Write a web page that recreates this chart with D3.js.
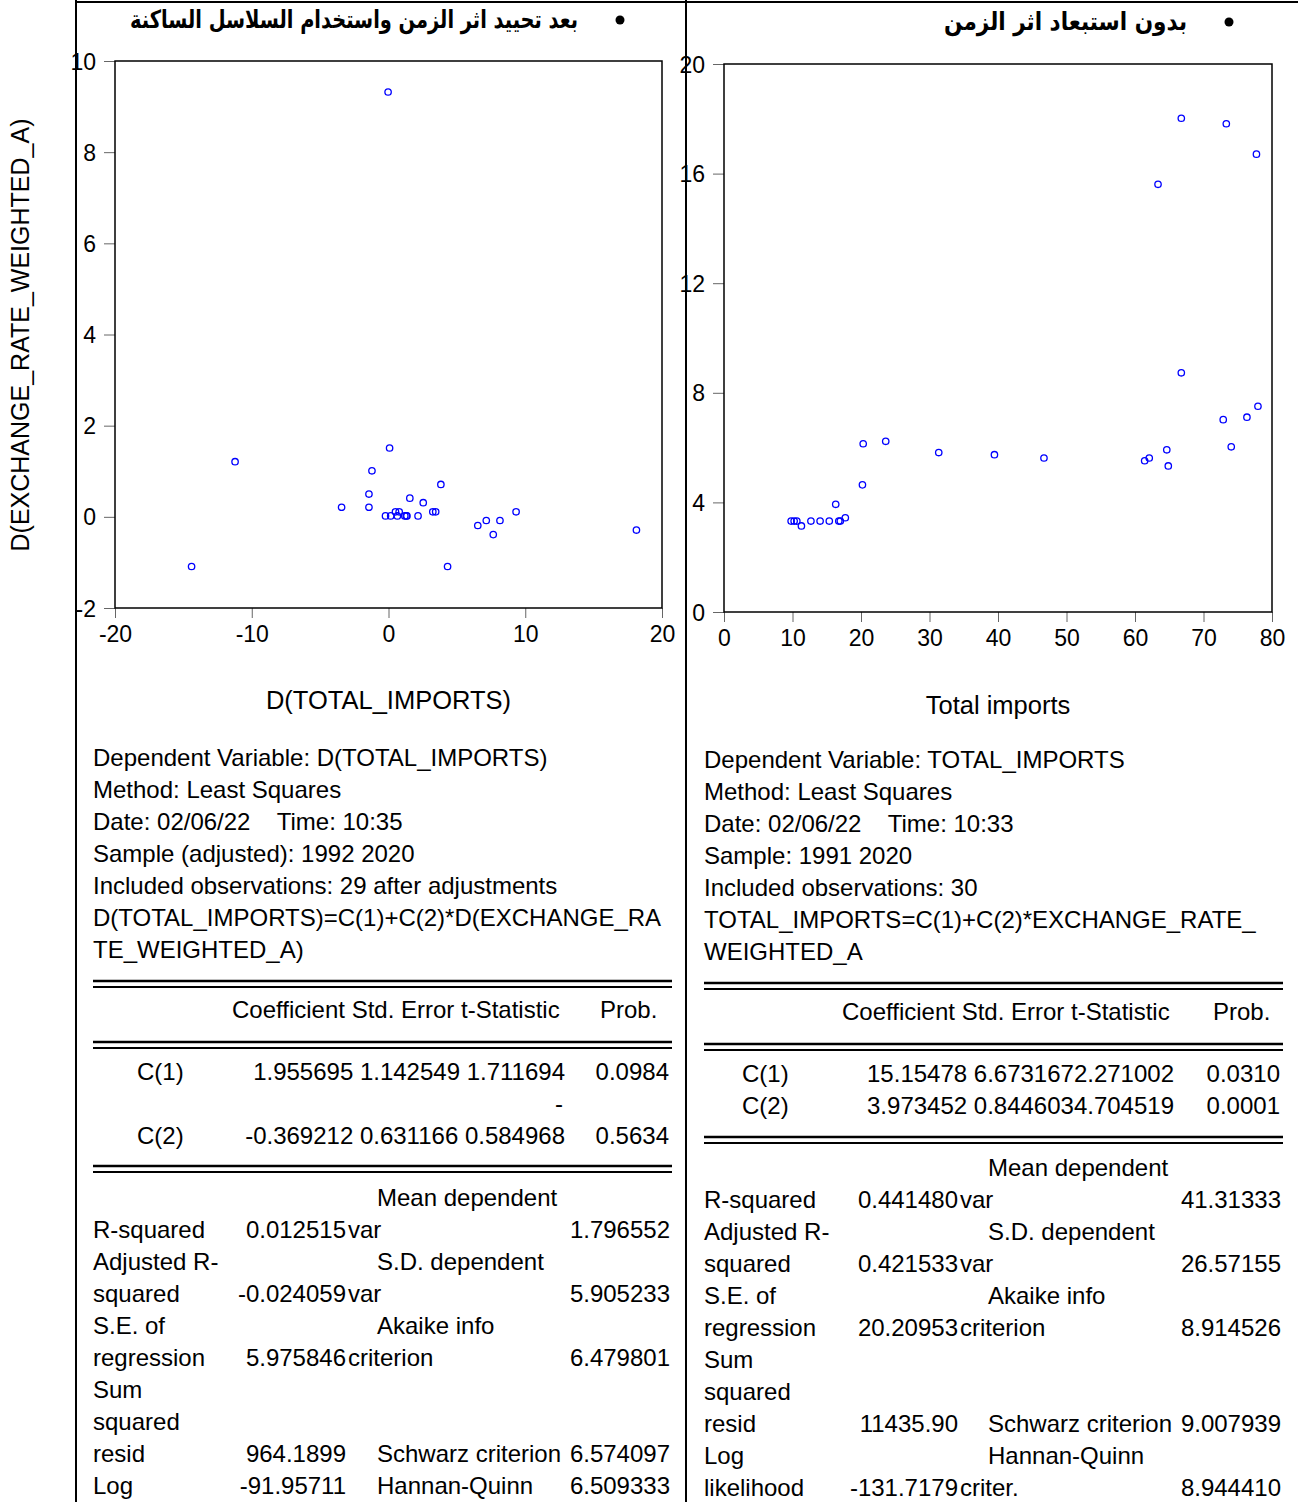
<!DOCTYPE html>
<html><head><meta charset="utf-8">
<script src="https://cdn.jsdelivr.net/npm/d3@7"></script>
<style>body{margin:0;background:#fff}svg{display:block}</style>
</head><body>
<script>
// ---------- DATA ----------
const leftX = [-0.03,-11.22,-14.4,0.08,-1.21,-1.43,-1.43,-3.43,3.83,1.56,2.54,0.51,0.78,3.24,3.45,-0.22,0.16,0.65,1.19,1.35,1.30,2.16,9.33,6.53,7.15,8.15,7.66,18.13,4.32];
const leftY = [9.32,1.21,-1.09,1.51,1.01,0.50,0.21,0.21,0.71,0.41,0.31,0.11,0.11,0.11,0.11,0.02,0.02,0.02,0.02,0.02,0.02,0.02,0.11,-0.19,-0.08,-0.08,-0.39,-0.29,-1.09];
const rightX = [66.76,73.33,77.73,63.36,66.76,77.95,76.34,72.88,74.05,64.64,62.08,61.41,64.86,46.71,39.48,31.35,23.61,20.32,20.21,16.31,17.71,16.76,16.98,15.37,14.03,12.69,11.30,10.63,10.24,9.80];
const rightY = [18.02,17.82,16.71,15.61,8.73,7.51,7.11,7.02,6.03,5.92,5.62,5.52,5.33,5.62,5.74,5.82,6.23,6.14,4.64,3.93,3.44,3.32,3.32,3.32,3.32,3.32,3.14,3.32,3.32,3.32];
const leftXTicks = [-20,-10,0,10,20];
const leftYTicks = [-2,0,2,4,6,8,10];
const rightXTicks = [0,10,20,30,40,50,60,70,80];
const rightYTicks = [0,4,8,12,16,20];
const leftTitle = "بعد تحييد اثر الزمن واستخدام السلاسل الساكنة";
const rightTitle = "بدون استبعاد اثر الزمن";
const leftXLabel = "D(TOTAL_IMPORTS)";
const leftYLabel = "D(EXCHANGE_RATE_WEIGHTED_A)";
const rightXLabel = "Total imports";
const leftHeader = ["Dependent Variable: D(TOTAL_IMPORTS)","Method: Least Squares","Date: 02/06/22\u00a0\u00a0\u00a0 Time: 10:35","Sample (adjusted): 1992 2020","Included observations: 29 after adjustments","D(TOTAL_IMPORTS)=C(1)+C(2)*D(EXCHANGE_RA","TE_WEIGHTED_A)"];
const rightHeader = ["Dependent Variable: TOTAL_IMPORTS","Method: Least Squares","Date: 02/06/22\u00a0\u00a0\u00a0 Time: 10:33","Sample: 1991 2020","Included observations: 30","TOTAL_IMPORTS=C(1)+C(2)*EXCHANGE_RATE_","WEIGHTED_A"];
const coefHead = ["Coefficient Std. Error t-Statistic","Prob."];
const leftCoef = [["C(1)","1.955695 1.142549 1.711694","0.0984"],["C(2)","-0.369212 0.631166 0.584968","0.5634"]];
const rightCoef = [["C(1)","15.15478 6.6731672.271002","0.0310"],["C(2)","3.973452 0.8446034.704519","0.0001"]];
// stats rows: [label, value, label2, value2]
const leftStats = [["","","Mean dependent",""],["R-squared","0.012515","var","1.796552"],["Adjusted R-","","S.D. dependent",""],["squared","-0.024059","var","5.905233"],["S.E. of","","Akaike info",""],["regression","5.975846","criterion","6.479801"],["Sum","","",""],["squared","","",""],["resid","964.1899","Schwarz criterion","6.574097"],["Log","-91.95711","Hannan-Quinn","6.509333"]];
const rightStats = [["","","Mean dependent",""],["R-squared","0.441480","var","41.31333"],["Adjusted R-","","S.D. dependent",""],["squared","0.421533","var","26.57155"],["S.E. of","","Akaike info",""],["regression","20.20953","criterion","8.914526"],["Sum","","",""],["squared","","",""],["resid","11435.90","Schwarz criterion","9.007939"],["Log","","Hannan-Quinn",""],["likelihood","-131.7179","criter.","8.944410"]];
const continuations = ["var","criterion","criter."];

// ---------- DRAW ----------
const W=1298,H=1502;
const svg=d3.select("body").append("svg").attr("width",W).attr("height",H);
const FONT="'Liberation Sans', Arial, sans-serif";
svg.append("rect").attr("width",W).attr("height",H).attr("fill","#fff");

// page separators
svg.append("line").attr("x1",76).attr("x2",76).attr("y1",0).attr("y2",H).attr("stroke","#000").attr("stroke-width",2);
svg.append("line").attr("x1",686).attr("x2",686).attr("y1",0).attr("y2",H).attr("stroke","#000").attr("stroke-width",2);
svg.append("line").attr("x1",76).attr("x2",W).attr("y1",2).attr("y2",2).attr("stroke","#000").attr("stroke-width",2);

// titles
function title(txt,bx,by,w){
  svg.append("circle").attr("cx",bx).attr("cy",by).attr("r",4.5).attr("fill","#000");
  svg.append("text").attr("x",bx-42).attr("y",by+8).attr("text-anchor","end")
    .attr("textLength",w).attr("lengthAdjust","spacingAndGlyphs")
    .style("font-family","'DejaVu Sans', sans-serif").style("font-weight","bold")
    .style("font-size","25px").text(txt);
}
title(leftTitle,620,20,448);
title(rightTitle,1229,22,243);

function plot(o){
  const x=d3.scaleLinear().domain(o.xd).range([o.x0,o.x1]);
  const y=d3.scaleLinear().domain(o.yd).range([o.y1,o.y0]);
  const g=svg.append("g");
  const fmt=d=>String(d);
  const ax=g.append("g").attr("transform",`translate(0,${o.y1})`)
    .call(d3.axisBottom(x).tickValues(o.xt).tickSize(10).tickPadding(8).tickFormat(fmt));
  const ay=g.append("g").attr("transform",`translate(${o.x0},0)`)
    .call(d3.axisLeft(y).tickValues(o.yt).tickSize(11).tickPadding(8).tickFormat(fmt));
  [ax,ay].forEach(a=>{a.select(".domain").remove();a.selectAll(".tick line").attr("stroke","#666");
    a.selectAll("text").style("font-family",FONT).style("font-size","23px").attr("fill","#000");});
  ay.selectAll("text").attr("dy","0.35em");
  g.append("rect").attr("x",o.x0).attr("y",o.y0).attr("width",o.x1-o.x0).attr("height",o.y1-o.y0)
    .attr("fill","none").attr("stroke","#000").attr("stroke-width",1.5);
  g.selectAll("circle.pt").data(o.xs.map((v,i)=>[v,o.ys[i]])).enter().append("circle").attr("class","pt")
    .attr("cx",d=>x(d[0])).attr("cy",d=>y(d[1])).attr("r",3.2)
    .attr("fill","none").attr("stroke","#0000ff").attr("stroke-width",1.3);
  svg.append("text").attr("x",(o.x0+o.x1)/2).attr("y",o.xly).attr("text-anchor","middle")
    .style("font-family",FONT).style("font-size",o.xfs).text(o.xl);
}
plot({xd:[-20,20],yd:[-2,10],x0:115,x1:662,y0:61,y1:608,xt:leftXTicks,yt:leftYTicks,xs:leftX,ys:leftY,xl:leftXLabel,xly:709,xfs:"25.5px"});
plot({xd:[0,80],yd:[0,20],x0:724,x1:1272,y0:64,y1:612,xt:rightXTicks,yt:rightYTicks,xs:rightX,ys:rightY,xl:rightXLabel,xly:714,xfs:"25.5px"});
svg.append("text").attr("transform","translate(29,335) rotate(-90)").attr("text-anchor","middle")
  .style("font-family",FONT).style("font-size","25px").text(leftYLabel);

// text blocks
function txt(x,y,s,anchor){
  if(!s) return;
  svg.append("text").attr("x",x).attr("y",y).attr("text-anchor",anchor||"start")
    .style("font-family",FONT).style("font-size","24px").attr("fill","#000").text(s);
}
function dline(x0,x1,y){
  svg.append("line").attr("x1",x0).attr("x2",x1).attr("y1",y).attr("y2",y).attr("stroke","#000").attr("stroke-width",2.5);
  svg.append("line").attr("x1",x0).attr("x2",x1).attr("y1",y+6).attr("y2",y+6).attr("stroke","#000").attr("stroke-width",2);
}
function block(o){
  o.header.forEach((s,i)=>txt(o.x,o.hy+i*32,s));
  dline(o.x,o.x+579,o.l1);
  txt(o.cx,o.chy,coefHead[0]); txt(o.px,o.chy,coefHead[1]);
  dline(o.x,o.x+579,o.l2);
  o.coef.forEach((r,i)=>{
    const yy=o.c1y+i*o.cstep;
    txt(o.labx,yy,r[0]); txt(o.vx,yy,r[1],"end"); txt(o.x+576,yy,r[2],"end");
  });
  if(o.minus) txt(o.vx-2,o.c1y+32,"-","end");
  dline(o.x,o.x+579,o.l3);
  o.stats.forEach((r,i)=>{
    const yy=o.sy+i*32;
    txt(o.x,yy,r[0]); txt(o.s1x,yy,r[1],"end");
    txt(continuations.includes(r[2])?o.s1x+2:o.s2x,yy,r[2]);
    txt(o.x+577,yy,r[3],"end");
  });
}
block({x:93,header:leftHeader,hy:766,l1:981,cx:232,px:600,chy:1018,l2:1042,coef:leftCoef,labx:137,vx:565,c1y:1080,cstep:64,minus:true,l3:1166,stats:leftStats,sy:1206,s1x:346,s2x:377});
block({x:704,header:rightHeader,hy:768,l1:983,cx:842,px:1213,chy:1020,l2:1044,coef:rightCoef,labx:742,vx:1174,c1y:1082,cstep:32,minus:false,l3:1137,stats:rightStats,sy:1176,s1x:958,s2x:988});
</script>
</body></html>
